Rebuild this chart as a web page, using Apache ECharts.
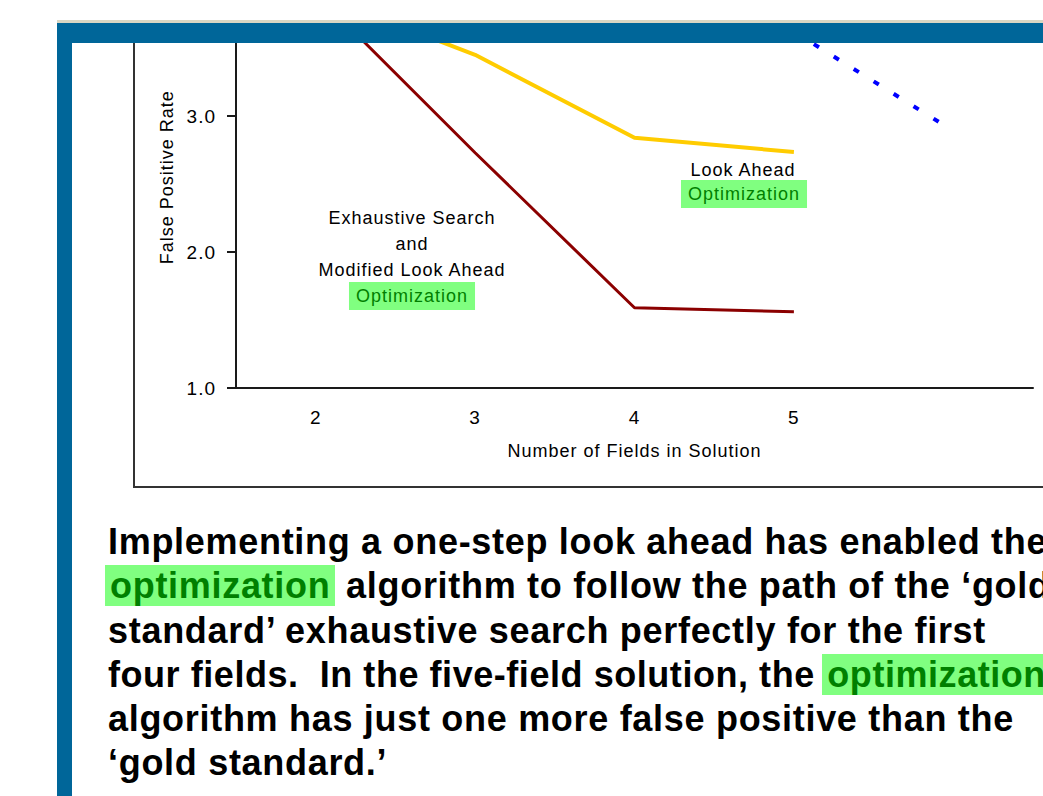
<!DOCTYPE html>
<html>
<head>
<meta charset="utf-8">
<script src="https://cdn.jsdelivr.net/npm/echarts@6/dist/echarts.min.js"></script>
<style>
  html, body { margin: 0; padding: 0; background: #fff; }
  body { width: 1043px; height: 796px; position: relative; overflow: hidden; font-family: 'Liberation Sans', Arial, sans-serif; }
  /* chart sits 60px above the page so the clipped top of the plot can be drawn */
  #chart { position: absolute; left: 0; top: -60px; width: 1043px; height: 856px; z-index: 2; }
  #chart svg text { letter-spacing: 1px; }
  .frame { position: absolute; left: 133px; top: 0; width: 920px; height: 486px; border-left: 2px solid #333; border-bottom: 2px solid #333; z-index: 1; }
  .topwhite { position: absolute; left: 0; top: 0; width: 1043px; height: 20px; background: #fff; z-index: 3; }
  .beige { position: absolute; left: 57px; top: 20px; width: 986px; height: 3px; background: #d9d6c3; z-index: 3; }
  .bluebar { position: absolute; left: 57px; top: 23px; width: 986px; height: 20px; background: #006699; z-index: 3; }
  .blueleft { position: absolute; left: 57px; top: 23px; width: 15px; height: 773px; background: #006699; z-index: 3; }
  .para { position: absolute; left: 108px; top: 520px; font-weight: bold; font-size: 36px; line-height: 44.3px;
          letter-spacing: 0.7px; white-space: nowrap; color: #000; z-index: 3; }
  .hl { background: #80ff80; color: #008000; padding: 0 5px; margin-left: -3px; }
</style>
</head>
<body>
<div class="frame"></div>
<div id="chart"></div>
<div class="topwhite"></div>
<div class="beige"></div>
<div class="bluebar"></div>
<div class="blueleft"></div>
<div class="para">
  <div>Implementing a one-step look ahead has enabled the</div>
  <div><span class="hl">optimization</span> algorithm to follow the path of the ‘gold</div>
  <div>standard’ exhaustive search perfectly for the first</div>
  <div style="letter-spacing:0.55px">four fields.&nbsp; In the five-field solution, the <span class="hl">optimization</span></div>
  <div>algorithm has just one more false positive than the</div>
  <div>‘gold standard.’</div>
</div>
<script>
// number of fields (last band has no label)
const fields = ['2', '3', '4', '5', ''];

// false positive rates
const exhaustiveSearch = [3.9, 2.73, 1.59, 1.56, null];
const lookAhead = [3.9, 3.45, 2.84, 2.735, null];
const blueDotted = [null, null, null, 3.62, 2.89];

const chartFont = 'Liberation Sans, Arial, sans-serif';
const off = 60; // page y -> chart y

const chart = echarts.init(document.getElementById('chart'), null, { renderer: 'svg' });

const axisColor = '#1a1a1a';

const note = (text, x, y, green) => ({
  type: 'text',
  style: Object.assign({
    text: text, x: x, y: y + off, align: 'center', verticalAlign: 'middle',
    font: '18px ' + chartFont, fill: '#000'
  }, green ? { fill: '#008000', backgroundColor: '#80ff80', padding: [5, 13] } : {})
});

const option = {
  animation: false,
  grid: { left: 236, right: 10, top: 26.4, bottom: 408 },
  xAxis: {
    type: 'category',
    data: fields,
    boundaryGap: true,
    axisLine: { lineStyle: { color: axisColor, width: 2 } },
    axisTick: { length: 8, lineStyle: { color: axisColor, width: 2 } },
    axisLabel: { margin: 20, fontSize: 19, color: '#000', fontFamily: chartFont },
    name: 'Number of Fields in Solution',
    nameLocation: 'middle',
    nameGap: 54,
    nameTextStyle: { fontSize: 18, color: '#000', fontFamily: chartFont }
  },
  yAxis: {
    type: 'value',
    min: 1,
    max: 4.1,
    interval: 1,
    splitLine: { show: false },
    axisLine: { show: true, lineStyle: { color: axisColor, width: 2 } },
    axisTick: { show: true, length: 9, lineStyle: { color: axisColor, width: 2 } },
    axisLabel: {
      margin: 20, fontSize: 19, color: '#000', fontFamily: chartFont,
      // labels above 3.0 sit under the title bar, leave them out
      formatter: (v) => (v > 3.5 ? '' : v.toFixed(1))
    },
    name: 'False Positive Rate',
    nameLocation: 'middle',
    nameGap: 60,
    nameTextStyle: { fontSize: 18, color: '#000', fontFamily: chartFont }
  },
  series: [
    {
      name: 'Look Ahead Optimization',
      type: 'line',
      data: lookAhead,
      symbol: 'none',
      lineStyle: { color: '#ffcc00', width: 4 }
    },
    {
      name: 'Exhaustive Search',
      type: 'line',
      data: exhaustiveSearch,
      symbol: 'none',
      lineStyle: { color: '#8b0000', width: 3 }
    },
    {
      name: 'Other',
      type: 'line',
      data: blueDotted,
      symbol: 'none',
      lineStyle: { color: '#0000ff', width: 4, type: [6, 17.5] }
    }
  ],
  graphic: [
    note('Exhaustive Search', 412, 218),
    note('and', 412, 244),
    note('Modified Look Ahead', 412, 270),
    note('Optimization', 412, 296, true),
    note('Look Ahead', 743, 170),
    note('Optimization', 744, 194, true)
  ]
};

chart.setOption(option);
</script>
</body>
</html>
